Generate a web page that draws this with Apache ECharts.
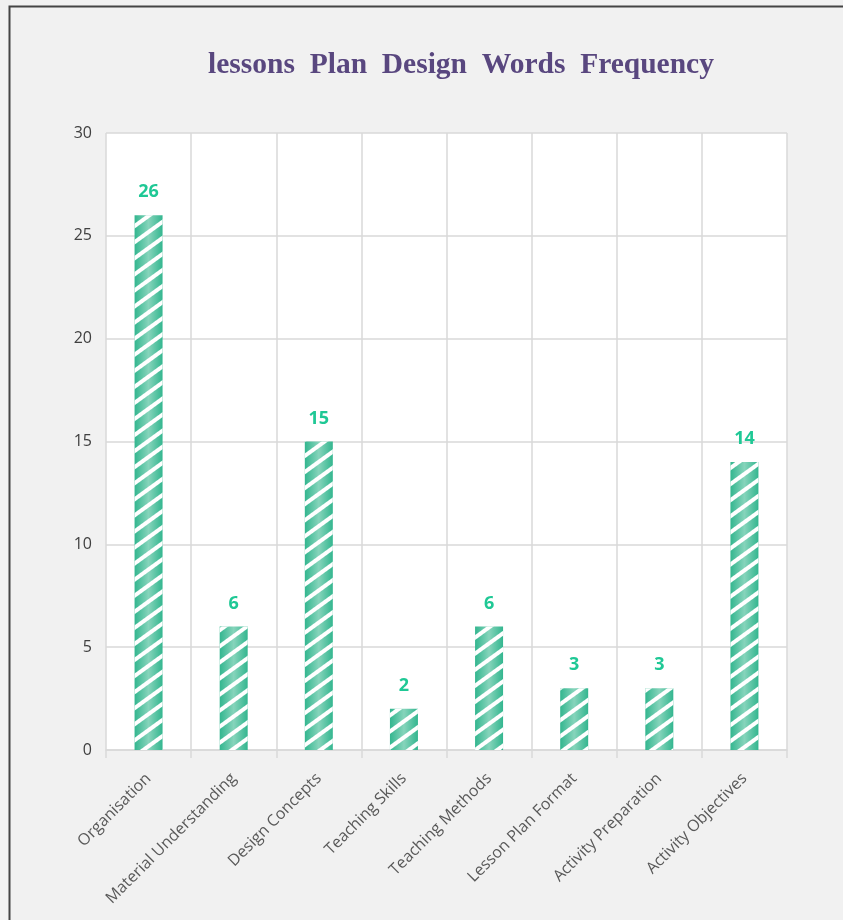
<!DOCTYPE html>
<html>
<head>
<meta charset="utf-8">
<script src="https://cdn.jsdelivr.net/npm/echarts@6/dist/echarts.min.js"></script>
<style>
  html, body { margin: 0; padding: 0; background: #f1f1f1; }
  #main { width: 843px; height: 920px; }
</style>
</head>
<body>
<div id="main"></div>
<script>
var chartDom = document.getElementById('main');
var myChart = echarts.init(chartDom);

// data
var categories = ['Organisation', 'Material Understanding', 'Design Concepts', 'Teaching Skills',
  'Teaching Methods', 'Lesson Plan Format', 'Activity Preparation', 'Activity Objectives'];
var counts = [26, 6, 15, 2, 6, 3, 3, 14];
var yTicks = [0, 5, 10, 15, 20, 25, 30];

var option = {
  backgroundColor: '#f1f1f1',
  animation: false,
  title: {
    text: 'lessons  Plan  Design  Words  Frequency',
    left: 456,
    top: 45,
    textAlign: 'center',
    textStyle: {
      fontFamily: 'Liberation Serif',
      fontWeight: 'bold',
      fontSize: 29.5,
      color: '#59477f'
    }
  },
  graphic: [
    {
      type: 'polyline',
      shape: { points: [[9.5, 920], [9.5, 6.5], [843, 6.5]] },
      style: { stroke: '#444', lineWidth: 2, fill: null },
      silent: true
    }
  ],
  grid: {
    left: 106,
    right: 56,
    top: 133,
    bottom: 170,
    show: true,
    backgroundColor: '#ffffff',
    borderWidth: 0
  },
  xAxis: {
    type: 'category',
    data: categories,
    axisLine: { lineStyle: { color: '#d9d9d9', width: 1.5 } },
    axisTick: { show: true, length: 8, alignWithLabel: false, lineStyle: { color: '#d9d9d9', width: 1.5 } },
    splitLine: { show: true, lineStyle: { color: '#d9d9d9', width: 1.5 } },
    axisLabel: {
      rotate: 45,
      interval: 0,
      margin: 26,
      fontFamily: 'Open Sans',
      fontSize: 16,
      color: '#595959'
    }
  },
  yAxis: {
    type: 'value',
    min: yTicks[0],
    max: yTicks[yTicks.length - 1],
    interval: 5,
    axisLine: { show: false },
    axisTick: { show: false },
    splitLine: { lineStyle: { color: '#d9d9d9', width: 1.5 } },
    axisLabel: {
      margin: 14,
      fontFamily: 'Open Sans',
      fontSize: 16,
      color: '#404040'
    }
  },
  series: [
    {
      type: 'bar',
      data: counts,
      barWidth: 28,
      itemStyle: {
        color: new echarts.graphic.LinearGradient(0, 0, 1, 0, [
          { offset: 0, color: '#33b68f' },
          { offset: 0.5, color: '#86d4bb' },
          { offset: 1, color: '#33b68f' }
        ]),
        decal: {
          symbol: 'rect',
          color: '#ffffff',
          dashArrayX: [1, 0],
          dashArrayY: [4, 9],
          rotation: -Math.PI / 5
        }
      },
      label: {
        show: true,
        position: 'top',
        distance: 14,
        fontFamily: 'Open Sans',
        fontWeight: 'bold',
        fontSize: 18,
        color: '#1fc895'
      }
    }
  ]
};

option && myChart.setOption(option);
</script>
</body>
</html>
